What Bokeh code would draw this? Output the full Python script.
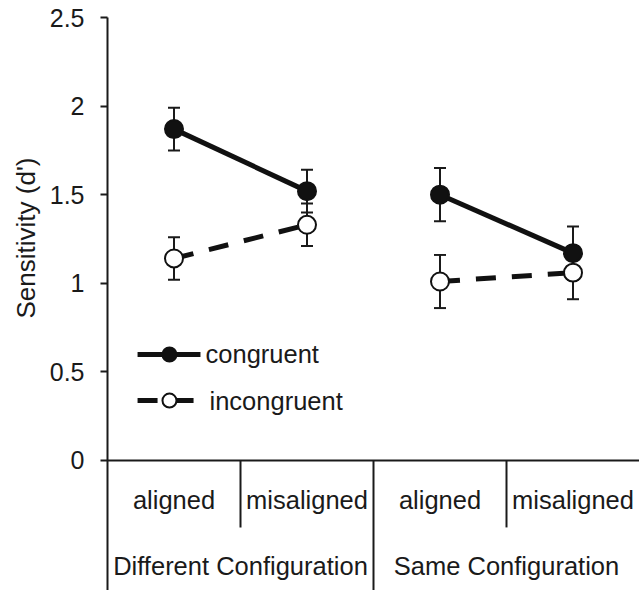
import math
from bokeh.plotting import figure
from bokeh.models import Range1d, FixedTicker, Title
from bokeh.core.properties import value
from bokeh.embed import file_html
from bokeh.resources import INLINE

# ---- data ----
conditions = ["aligned", "misaligned", "aligned", "misaligned"]
groups = ["Different Configuration", "Same Configuration"]
congruent = [1.87, 1.52, 1.50, 1.17]
congruent_err = [0.12, 0.12, 0.15, 0.15]
incongruent = [1.14, 1.33, 1.01, 1.06]
incongruent_err = [0.12, 0.12, 0.15, 0.15]
y_ticks = [0, 0.5, 1, 1.5, 2, 2.5]
y_tick_labels = ["0", "0.5", "1", "1.5", "2", "2.5"]

FONT = "Liberation Sans"
FS = "25.5px"
INK = "#1a1a1a"

n = len(conditions)
xc = [i + 0.5 for i in range(n)]
Y_BOTTOM = -0.734

p = figure(width=639, height=590, output_backend="svg", toolbar_location=None,
           x_range=Range1d(0, n), y_range=Range1d(Y_BOTTOM, 2.5),
           x_axis_location=None, min_border_left=107, min_border_right=0,
           min_border_top=17, min_border_bottom=0)
p.outline_line_color = None
p.grid.visible = False
p.background_fill_color = "white"

ax = p.yaxis[0]
ax.ticker = FixedTicker(ticks=y_ticks)
ax.major_label_overrides = {t: l for t, l in zip(y_ticks, y_tick_labels)}
ax.minor_tick_line_color = None
ax.major_tick_out = 7
ax.major_tick_in = 0
ax.major_tick_line_width = 2
ax.axis_line_width = 2
ax.axis_line_color = INK
ax.major_tick_line_color = INK
ax.major_label_standoff = 16
ax.major_label_text_font = FONT
ax.major_label_text_font_size = "25px"
ax.major_label_text_color = INK

# y axis title, placed over the 0..2.5 part of the axis
p.add_layout(Title(text="Sensitivity (d')", align="right", offset=140,
                   text_font=FONT, text_font_size="26px", text_font_style="normal",
                   text_color=INK, standoff=12), "left")

# horizontal axis line at 0 and category separators
p.segment(x0=[0], y0=[0], x1=[n], y1=[0], line_color=INK, line_width=2)
p.segment(x0=[1, 3], y0=[0, 0], x1=[1, 3], y1=[-0.378, -0.378], line_color=INK, line_width=2)
p.segment(x0=[2], y0=[0], x1=[2], y1=[Y_BOTTOM], line_color=INK, line_width=2)

# category labels
p.text(x=xc, y=[-0.2257] * n, text=conditions, text_align="center", text_baseline="middle",
       text_font=value(FONT), text_font_size=FS, text_color=INK)
p.text(x=[1.0, 3.0], y=[-0.598] * 2, text=groups, text_align="center", text_baseline="middle",
       text_font=value(FONT), text_font_size=FS, text_color=INK)

# error bars
for vals, errs in ((congruent, congruent_err), (incongruent, incongruent_err)):
    lo = [v - e for v, e in zip(vals, errs)]
    hi = [v + e for v, e in zip(vals, errs)]
    p.segment(x0=xc, y0=lo, x1=xc, y1=hi, line_color=INK, line_width=2)
    p.scatter(x=xc + xc, y=lo + hi, marker="dash", size=12, line_color=INK, line_width=2)

# lines: pairs within each configuration
for g in range(2):
    xs = xc[2 * g:2 * g + 2]
    p.line(xs, congruent[2 * g:2 * g + 2], line_color="#111111", line_width=5)
    p.line(xs, incongruent[2 * g:2 * g + 2], line_color="#111111", line_width=5,
           line_dash="20 16")

p.scatter(xc, congruent, size=18, fill_color="#111111", line_color="#111111", line_width=2)
p.scatter(xc, incongruent, size=18, fill_color="white", line_color="#111111", line_width=2)

# legend (drawn by hand)
p.line([0.226, 0.699], [0.598, 0.598], line_color="#111111", line_width=5)
p.scatter([0.466], [0.598], size=14, fill_color="#111111", line_color="#111111", line_width=2)
p.line([0.226, 0.647], [0.338, 0.338], line_color="#111111", line_width=5, line_dash="20 16")
p.scatter([0.466], [0.338], size=14, fill_color="white", line_color="#111111", line_width=2)
p.text(x=[0.737, 0.767], y=[0.598, 0.338], text=["congruent", "incongruent"],
       text_align="left", text_baseline="middle",
       text_font=value(FONT), text_font_size=FS, text_color=INK)

open("out.html", "w").write(file_html(p, INLINE))
